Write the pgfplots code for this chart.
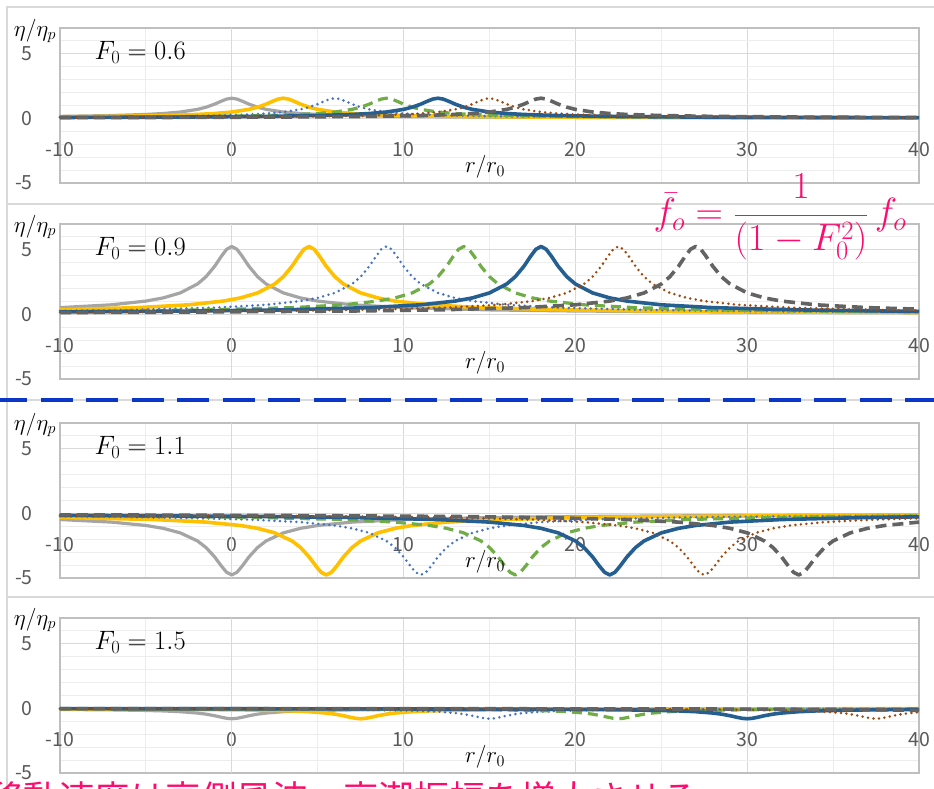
\documentclass[border=0pt]{standalone}
\usepackage{fix-cm}
\usepackage{pgfplots}
\pgfplotsset{compat=1.18}
\usepackage{fontspec}
\newfontfamily\jpfont{Noto Sans CJK JP}
\definecolor{c1}{HTML}{A5A5A5}
\definecolor{c2}{HTML}{FFC000}
\definecolor{c3}{HTML}{4472C4}
\definecolor{c4}{HTML}{70AD47}
\definecolor{c5}{HTML}{255E91}
\definecolor{c6}{HTML}{9E480E}
\definecolor{c7}{HTML}{636363}
\definecolor{tickgray}{HTML}{595959}
\definecolor{bord}{HTML}{D9D9D9}
\definecolor{majgrid}{HTML}{D9D9D9}
\definecolor{mingrid}{HTML}{EDEDED}
\definecolor{boxgray}{HTML}{BFBFBF}
\definecolor{pinkc}{HTML}{FF0A6E}
\definecolor{sepblue}{HTML}{0A37C8}
\pgfplotsset{
  panel/.style={
    at={(60pt,#1)}, anchor=south west,
    scale only axis, width=859pt, height=155pt,
    xmin=-10, xmax=40, ymin=-5, ymax=7,
    xtick={-10,0,10,20,30,40}, xticklabels={-10,0,10,20,30,40},
    ytick={-5,0,5}, yticklabels={-5,0,5},
    minor xtick={-5,5,15,25,35},
    minor ytick={-4,-3,-2,-1,1,2,3,4,6},
    grid=both,
    major grid style={draw=majgrid, line width=1pt},
    minor grid style={draw=mingrid, line width=1pt},
    axis line style={draw=boxgray, line width=1.3pt},
    major tick length=0pt, minor tick length=0pt,
    tick style={draw=none},
    tick label style={font=\jpfont\fontsize{19.5}{22}\selectfont, text=tickgray, inner sep=0pt},
    xticklabel style={anchor=center, yshift=33pt},
    yticklabel style={anchor=east, xshift=-27pt},
    extra x ticks={0}, extra x tick labels={},
    extra x tick style={grid style={draw=tickgray, line width=1.2pt}},
    clip=false,
    no markers,
    every axis plot/.append style={line join=round},
  },
  s1/.style={color=c1, line width=3.2pt},
  s2/.style={color=c2, line width=3.6pt},
  s3/.style={color=c3, line width=2.8pt, dash pattern=on 0pt off 5.5pt, line cap=round},
  s4/.style={color=c4, line width=3.2pt, dash pattern=on 10pt off 6pt},
  s5/.style={color=c5, line width=3.6pt},
  s6/.style={color=c6, line width=2.8pt, dash pattern=on 0pt off 5.5pt, line cap=round},
  s7/.style={color=c7, line width=3.6pt, dash pattern=on 11pt off 6pt},
}
\newcommand{\mlab}[1]{\fontsize{23}{26}\selectfont #1}
\begin{document}
\begin{tikzpicture}[x=1pt,y=1pt]
\path[use as bounding box] (0,0) rectangle (934,789);
\fill[white] (0,0) rectangle (934,789);
% chart area borders
\draw[bord, line width=1.8pt] (7,-2) -- (7,782) -- (936,782);
\draw[bord, line width=1.8pt] (7,585) -- (936,585);
\draw[bord, line width=1.8pt] (7,389) -- (936,389);
\draw[bord, line width=1.8pt] (7,192) -- (936,192);

% ---------------- Panel 1 : F0 = 0.6
\begin{axis}[panel={606pt}]
\addplot[s1] coordinates {(-10,0.155) (-7,0.221) (-5,0.306) (-4,0.379) (-3,0.494) (-2,0.699) (-1.5,0.867) (-1,1.105) (-0.6,1.340) (-0.3,1.497) (0,1.563) (0.3,1.497) (0.6,1.340) (1,1.105) (1.5,0.867) (2,0.699) (3,0.494) (4,0.379) (5,0.306) (7,0.221) (10,0.155) (15,0.104) (20,0.078) (30,0.052) (40,0.039)};
\addplot[s2] coordinates {(-10,0.120) (-7,0.155) (-4,0.221) (-2,0.306) (-1,0.379) (0,0.494) (1,0.699) (1.5,0.867) (2,1.105) (2.4,1.340) (2.7,1.497) (3,1.563) (3.3,1.497) (3.6,1.340) (4,1.105) (4.5,0.867) (5,0.699) (6,0.494) (7,0.379) (8,0.306) (10,0.221) (13,0.155) (18,0.104) (23,0.078) (33,0.052) (40,0.042)};
\addplot[s3] coordinates {(-10,0.098) (-4,0.155) (-1,0.221) (1,0.306) (2,0.379) (3,0.494) (4,0.699) (4.5,0.867) (5,1.105) (5.4,1.340) (5.7,1.497) (6,1.563) (6.3,1.497) (6.6,1.340) (7,1.105) (7.5,0.867) (8,0.699) (9,0.494) (10,0.379) (11,0.306) (13,0.221) (16,0.155) (21,0.104) (26,0.078) (36,0.052) (40,0.046)};
\addplot[s4] coordinates {(-10,0.082) (-6,0.104) (-1,0.155) (2,0.221) (4,0.306) (5,0.379) (6,0.494) (7,0.699) (7.5,0.867) (8,1.105) (8.4,1.340) (8.7,1.497) (9,1.563) (9.3,1.497) (9.6,1.340) (10,1.105) (10.5,0.867) (11,0.699) (12,0.494) (13,0.379) (14,0.306) (16,0.221) (19,0.155) (24,0.104) (29,0.078) (39,0.052) (40,0.050)};
\addplot[s5] coordinates {(-10,0.071) (-8,0.078) (-3,0.104) (2,0.155) (5,0.221) (7,0.306) (8,0.379) (9,0.494) (10,0.699) (10.5,0.867) (11,1.105) (11.4,1.340) (11.7,1.497) (12,1.563) (12.3,1.497) (12.6,1.340) (13,1.105) (13.5,0.867) (14,0.699) (15,0.494) (16,0.379) (17,0.306) (19,0.221) (22,0.155) (27,0.104) (32,0.078) (40,0.056)};
\addplot[s6] coordinates {(-10,0.063) (-5,0.078) (0,0.104) (5,0.155) (8,0.221) (10,0.306) (11,0.379) (12,0.494) (13,0.699) (13.5,0.867) (14,1.105) (14.4,1.340) (14.7,1.497) (15,1.563) (15.3,1.497) (15.6,1.340) (16,1.105) (16.5,0.867) (17,0.699) (18,0.494) (19,0.379) (20,0.306) (22,0.221) (25,0.155) (30,0.104) (35,0.078) (40,0.063)};
\addplot[s7] coordinates {(-10,0.056) (-2,0.078) (3,0.104) (8,0.155) (11,0.221) (13,0.306) (14,0.379) (15,0.494) (16,0.699) (16.5,0.867) (17,1.105) (17.4,1.340) (17.7,1.497) (18,1.563) (18.3,1.497) (18.6,1.340) (19,1.105) (19.5,0.867) (20,0.699) (21,0.494) (22,0.379) (23,0.306) (25,0.221) (28,0.155) (33,0.104) (38,0.078) (40,0.071)};
\node[anchor=west, inner sep=0pt] at (axis cs:-8,5.1) {\fontsize{26.5}{30}\selectfont $F_0 = 0.6$};
\node[inner sep=0pt] at (axis cs:14.74,-3.76) {\mlab{$r/r_0$}};
\end{axis}

% ---------------- Panel 2 : F0 = 0.9
\begin{axis}[panel={410pt}]
\addplot[s1] coordinates {(-10,0.524) (-7,0.744) (-5,1.032) (-4,1.276) (-3,1.664) (-2,2.354) (-1.5,2.919) (-1,3.722) (-0.6,4.513) (-0.3,5.041) (0,5.263) (0.3,5.041) (0.6,4.513) (1,3.722) (1.5,2.919) (2,2.354) (3,1.664) (4,1.276) (5,1.032) (7,0.744) (10,0.524) (15,0.350) (20,0.263) (30,0.175) (40,0.132)};
\addplot[s2] coordinates {(-10,0.362) (-5.5,0.524) (-2.5,0.744) (-0.5,1.032) (0.5,1.276) (1.5,1.664) (2.5,2.354) (3,2.919) (3.5,3.722) (3.9,4.513) (4.2,5.041) (4.5,5.263) (4.8,5.041) (5.1,4.513) (5.5,3.722) (6,2.919) (6.5,2.354) (7.5,1.664) (8.5,1.276) (9.5,1.032) (11.5,0.744) (14.5,0.524) (19.5,0.350) (24.5,0.263) (34.5,0.175) (40,0.148)};
\addplot[s3] coordinates {(-10,0.277) (-6,0.350) (-1,0.524) (2,0.744) (4,1.032) (5,1.276) (6,1.664) (7,2.354) (7.5,2.919) (8,3.722) (8.4,4.513) (8.7,5.041) (9,5.263) (9.3,5.041) (9.6,4.513) (10,3.722) (10.5,2.919) (11,2.354) (12,1.664) (13,1.276) (14,1.032) (16,0.744) (19,0.524) (24,0.350) (29,0.263) (39,0.175) (40,0.169)};
\addplot[s4] coordinates {(-10,0.224) (-6.5,0.263) (-1.5,0.350) (3.5,0.524) (6.5,0.744) (8.5,1.032) (9.5,1.276) (10.5,1.664) (11.5,2.354) (12,2.919) (12.5,3.722) (12.9,4.513) (13.2,5.041) (13.5,5.263) (13.8,5.041) (14.1,4.513) (14.5,3.722) (15,2.919) (15.5,2.354) (16.5,1.664) (17.5,1.276) (18.5,1.032) (20.5,0.744) (23.5,0.524) (28.5,0.350) (33.5,0.263) (40,0.198)};
\addplot[s5] coordinates {(-10,0.188) (-2,0.263) (3,0.350) (8,0.524) (11,0.744) (13,1.032) (14,1.276) (15,1.664) (16,2.354) (16.5,2.919) (17,3.722) (17.4,4.513) (17.7,5.041) (18,5.263) (18.3,5.041) (18.6,4.513) (19,3.722) (19.5,2.919) (20,2.354) (21,1.664) (22,1.276) (23,1.032) (25,0.744) (28,0.524) (33,0.350) (38,0.263) (40,0.239)};
\addplot[s6] coordinates {(-10,0.162) (-7.5,0.175) (2.5,0.263) (7.5,0.350) (12.5,0.524) (15.5,0.744) (17.5,1.032) (18.5,1.276) (19.5,1.664) (20.5,2.354) (21,2.919) (21.5,3.722) (21.9,4.513) (22.2,5.041) (22.5,5.263) (22.8,5.041) (23.1,4.513) (23.5,3.722) (24,2.919) (24.5,2.354) (25.5,1.664) (26.5,1.276) (27.5,1.032) (29.5,0.744) (32.5,0.524) (37.5,0.350) (40,0.301)};
\addplot[s7] coordinates {(-10,0.142) (-3,0.175) (7,0.263) (12,0.350) (17,0.524) (20,0.744) (22,1.032) (23,1.276) (24,1.664) (25,2.354) (25.5,2.919) (26,3.722) (26.4,4.513) (26.7,5.041) (27,5.263) (27.3,5.041) (27.6,4.513) (28,3.722) (28.5,2.919) (29,2.354) (30,1.664) (31,1.276) (32,1.032) (34,0.744) (37,0.524) (40,0.404)};
\node[anchor=west, inner sep=0pt] at (axis cs:-8,5.1) {\fontsize{26.5}{30}\selectfont $F_0 = 0.9$};
\node[inner sep=0pt] at (axis cs:14.74,-3.76) {\mlab{$r/r_0$}};
\end{axis}

% ---------------- Panel 3 : F0 = 1.1
\begin{axis}[panel={211pt}]
\addplot[s1] coordinates {(-10,-0.474) (-7,-0.673) (-5,-0.934) (-4,-1.155) (-3,-1.506) (-2,-2.130) (-1.5,-2.641) (-1,-3.367) (-0.6,-4.083) (-0.3,-4.561) (0,-4.762) (0.3,-4.561) (0.6,-4.083) (1,-3.367) (1.5,-2.641) (2,-2.130) (3,-1.506) (4,-1.155) (5,-0.934) (7,-0.673) (10,-0.474) (15,-0.317) (20,-0.238) (30,-0.159) (40,-0.119)};
\addplot[s2] coordinates {(-10,-0.307) (-4.5,-0.474) (-1.5,-0.673) (0.5,-0.934) (1.5,-1.155) (2.5,-1.506) (3.5,-2.130) (4,-2.641) (4.5,-3.367) (4.9,-4.083) (5.2,-4.561) (5.5,-4.762) (5.8,-4.561) (6.1,-4.083) (6.5,-3.367) (7,-2.641) (7.5,-2.130) (8.5,-1.506) (9.5,-1.155) (10.5,-0.934) (12.5,-0.673) (15.5,-0.474) (20.5,-0.317) (25.5,-0.238) (35.5,-0.159) (40,-0.138)};
\addplot[s3] coordinates {(-10,-0.227) (-9,-0.238) (-4,-0.317) (1,-0.474) (4,-0.673) (6,-0.934) (7,-1.155) (8,-1.506) (9,-2.130) (9.5,-2.641) (10,-3.367) (10.4,-4.083) (10.7,-4.561) (11,-4.762) (11.3,-4.561) (11.6,-4.083) (12,-3.367) (12.5,-2.641) (13,-2.130) (14,-1.506) (15,-1.155) (16,-0.934) (18,-0.673) (21,-0.474) (26,-0.317) (31,-0.238) (40,-0.164)};
\addplot[s4] coordinates {(-10,-0.180) (-3.5,-0.238) (1.5,-0.317) (6.5,-0.474) (9.5,-0.673) (11.5,-0.934) (12.5,-1.155) (13.5,-1.506) (14.5,-2.130) (15,-2.641) (15.5,-3.367) (15.9,-4.083) (16.2,-4.561) (16.5,-4.762) (16.8,-4.561) (17.1,-4.083) (17.5,-3.367) (18,-2.641) (18.5,-2.130) (19.5,-1.506) (20.5,-1.155) (21.5,-0.934) (23.5,-0.673) (26.5,-0.474) (31.5,-0.317) (36.5,-0.238) (40,-0.202)};
\addplot[s5] coordinates {(-10,-0.149) (-8,-0.159) (2,-0.238) (7,-0.317) (12,-0.474) (15,-0.673) (17,-0.934) (18,-1.155) (19,-1.506) (20,-2.130) (20.5,-2.641) (21,-3.367) (21.4,-4.083) (21.7,-4.561) (22,-4.762) (22.3,-4.561) (22.6,-4.083) (23,-3.367) (23.5,-2.641) (24,-2.130) (25,-1.506) (26,-1.155) (27,-0.934) (29,-0.673) (32,-0.474) (37,-0.317) (40,-0.264)};
\addplot[s6] coordinates {(-10,-0.127) (-2.5,-0.159) (7.5,-0.238) (12.5,-0.317) (17.5,-0.474) (20.5,-0.673) (22.5,-0.934) (23.5,-1.155) (24.5,-1.506) (25.5,-2.130) (26,-2.641) (26.5,-3.367) (26.9,-4.083) (27.2,-4.561) (27.5,-4.762) (27.8,-4.561) (28.1,-4.083) (28.5,-3.367) (29,-2.641) (29.5,-2.130) (30.5,-1.506) (31.5,-1.155) (32.5,-0.934) (34.5,-0.673) (37.5,-0.474) (40,-0.380)};
\addplot[s7] coordinates {(-10,-0.110) (-7,-0.119) (3,-0.159) (13,-0.238) (18,-0.317) (23,-0.474) (26,-0.673) (28,-0.934) (29,-1.155) (30,-1.506) (31,-2.130) (31.5,-2.641) (32,-3.367) (32.4,-4.083) (32.7,-4.561) (33,-4.762) (33.3,-4.561) (33.6,-4.083) (34,-3.367) (34.5,-2.641) (35,-2.130) (36,-1.506) (37,-1.155) (38,-0.934) (40,-0.673)};
\node[anchor=west, inner sep=0pt] at (axis cs:-8,5.1) {\fontsize{26.5}{30}\selectfont $F_0 = 1.1$};
\node[inner sep=0pt] at (axis cs:14.74,-3.76) {\mlab{$r/r_0$}};
\end{axis}

% ---------------- Panel 4 : F0 = 1.5
\begin{axis}[panel={16pt}]
\addplot[s1] coordinates {(-10,-0.080) (-7,-0.113) (-5,-0.157) (-4,-0.194) (-3,-0.253) (-2,-0.358) (-1.5,-0.444) (-1,-0.566) (-0.6,-0.686) (-0.3,-0.766) (0,-0.800) (0.3,-0.766) (0.6,-0.686) (1,-0.566) (1.5,-0.444) (2,-0.358) (3,-0.253) (4,-0.194) (5,-0.157) (7,-0.113) (10,-0.080) (15,-0.053) (20,-0.040) (30,-0.027) (40,-0.020)};
\addplot[s2] coordinates {(-10,-0.046) (-2.5,-0.080) (0.5,-0.113) (2.5,-0.157) (3.5,-0.194) (4.5,-0.253) (5.5,-0.358) (6,-0.444) (6.5,-0.566) (6.9,-0.686) (7.2,-0.766) (7.5,-0.800) (7.8,-0.766) (8.1,-0.686) (8.5,-0.566) (9,-0.444) (9.5,-0.358) (10.5,-0.253) (11.5,-0.194) (12.5,-0.157) (14.5,-0.113) (17.5,-0.080) (22.5,-0.053) (27.5,-0.040) (37.5,-0.027) (40,-0.025)};
\addplot[s3] coordinates {(-10,-0.032) (-5,-0.040) (0,-0.053) (5,-0.080) (8,-0.113) (10,-0.157) (11,-0.194) (12,-0.253) (13,-0.358) (13.5,-0.444) (14,-0.566) (14.4,-0.686) (14.7,-0.766) (15,-0.800) (15.3,-0.766) (15.6,-0.686) (16,-0.566) (16.5,-0.444) (17,-0.358) (18,-0.253) (19,-0.194) (20,-0.157) (22,-0.113) (25,-0.080) (30,-0.053) (35,-0.040) (40,-0.032)};
\addplot[s4] coordinates {(-10,-0.025) (-7.5,-0.027) (2.5,-0.040) (7.5,-0.053) (12.5,-0.080) (15.5,-0.113) (17.5,-0.157) (18.5,-0.194) (19.5,-0.253) (20.5,-0.358) (21,-0.444) (21.5,-0.566) (21.9,-0.686) (22.2,-0.766) (22.5,-0.800) (22.8,-0.766) (23.1,-0.686) (23.5,-0.566) (24,-0.444) (24.5,-0.358) (25.5,-0.253) (26.5,-0.194) (27.5,-0.157) (29.5,-0.113) (32.5,-0.080) (37.5,-0.053) (40,-0.046)};
\addplot[s5] coordinates {(-10,-0.020) (0,-0.027) (10,-0.040) (15,-0.053) (20,-0.080) (23,-0.113) (25,-0.157) (26,-0.194) (27,-0.253) (28,-0.358) (28.5,-0.444) (29,-0.566) (29.4,-0.686) (29.7,-0.766) (30,-0.800) (30.3,-0.766) (30.6,-0.686) (31,-0.566) (31.5,-0.444) (32,-0.358) (33,-0.253) (34,-0.194) (35,-0.157) (37,-0.113) (40,-0.080)};
\addplot[s6] coordinates {(-10,-0.017) (-2.5,-0.020) (7.5,-0.027) (17.5,-0.040) (22.5,-0.053) (27.5,-0.080) (30.5,-0.113) (32.5,-0.157) (33.5,-0.194) (34.5,-0.253) (35.5,-0.358) (36,-0.444) (36.5,-0.566) (36.9,-0.686) (37.2,-0.766) (37.5,-0.800) (37.8,-0.766) (38.1,-0.686) (38.5,-0.566) (39,-0.444) (39.5,-0.358) (40,-0.297)};
\addplot[s7] coordinates {(-10,-0.015) (-5,-0.016) (5,-0.020) (15,-0.027) (25,-0.040) (30,-0.053) (35,-0.080) (38,-0.113) (40,-0.157)};
\node[anchor=west, inner sep=0pt] at (axis cs:-8,5.1) {\fontsize{26.5}{30}\selectfont $F_0 = 1.5$};
\node[inner sep=0pt] at (axis cs:14.74,-3.76) {\mlab{$r/r_0$}};
\end{axis}

% eta labels
\node[inner sep=0pt] at (35,758) {\mlab{$\eta/\eta_p$}};
\node[inner sep=0pt] at (35,562) {\mlab{$\eta/\eta_p$}};
\node[inner sep=0pt] at (35,364) {\mlab{$\eta/\eta_p$}};
\node[inner sep=0pt] at (35,169) {\mlab{$\eta/\eta_p$}};

% separator
\draw[sepblue, line width=4pt, dash pattern=on 32pt off 13.5pt, dash phase=5pt] (0,389) -- (934,389);

% formula
\node[text=pinkc, inner sep=0pt] at (780,572) {\fontsize{38}{44}\selectfont\color{pinkc}$\displaystyle \bar{f}_o = \frac{1}{(1-F_0^2)}\,f_o$};

% bottom Japanese text (cut off by the page edge)
\node[anchor=north west, inner sep=0pt, text=pinkc] at (-12,8) {\jpfont\fontsize{35.5}{40}\selectfont 移動速度は高側風波、高潮振幅を増大させる};
\end{tikzpicture}
\end{document}
